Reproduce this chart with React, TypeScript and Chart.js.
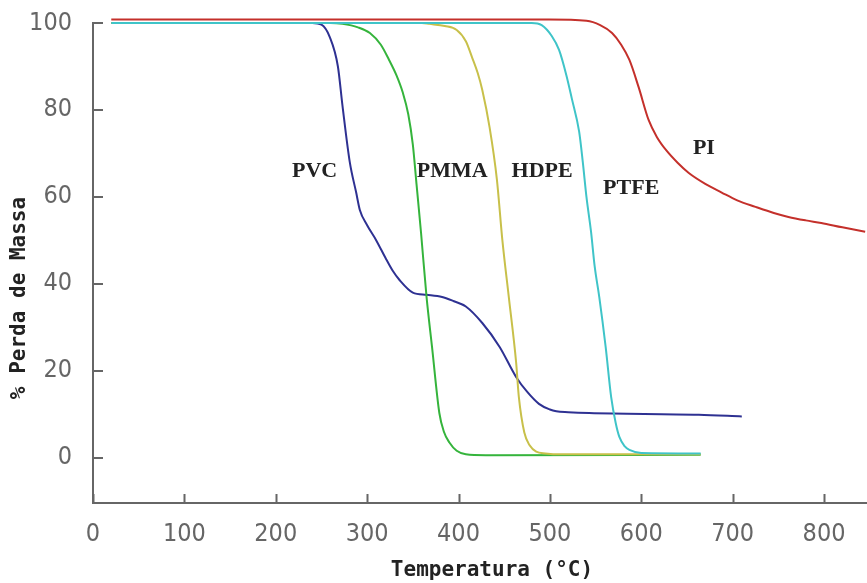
import React, { useEffect, useRef } from "react";
import { Chart, registerables } from "chart.js";

Chart.register(...registerables);

// Temperature (°C) and mass (%) samples
const pvcTemp = [20, 150, 240, 250, 259, 268, 273, 281, 288, 292, 300, 310, 320, 328, 335, 350, 365, 382, 395, 408, 426, 445, 463, 475, 488, 500, 507, 520, 543, 663, 710];
const pvcMass = [100, 100, 100, 99.6, 96.8, 90, 81, 68, 61, 57, 53.5, 50, 46, 43, 41, 38, 37.5, 37, 36, 34.8, 31, 25.5, 18.6, 15.2, 12.4, 11.1, 10.7, 10.5, 10.3, 9.9, 9.5];

const pmmaTemp = [20, 260, 273, 290, 303, 315, 324, 332, 339, 345, 350, 354, 359, 365, 371, 379, 384, 390, 398, 408, 430, 665];
const pmmaMass = [100, 100, 99.8, 99, 97.7, 95, 91.5, 88, 84, 79, 72, 63, 51.7, 37, 25.5, 10.3, 6, 3.5, 1.6, 0.8, 0.6, 0.7];

const hdpeTemp = [20, 360, 368, 385, 398, 408, 415, 421, 426, 434, 442, 448, 455, 463, 466, 472, 478, 485, 495, 513, 665];
const hdpeMass = [100, 100, 99.8, 99.3, 98.4, 95.8, 92, 88.5, 84.6, 76, 64, 50, 37, 22, 14, 5.8, 2.8, 1.4, 1.0, 0.8, 0.8];

const ptfeTemp = [20, 480, 491, 502, 510, 518, 524, 532, 536, 540, 545, 549, 554, 561, 567, 572, 576, 582, 587, 600, 665];
const ptfeMass = [100, 100, 99.5, 97, 93.8, 88, 82.6, 75, 68, 60, 52, 44, 37, 25.5, 14, 8, 4.8, 2.6, 1.8, 1.1, 1.0];

const piTemp = [20, 300, 499, 540, 555, 568, 578, 587, 597, 608, 617, 627, 640, 652, 670, 688, 705, 725, 745, 761, 780, 797, 820, 845];
const piMass = [100.8, 100.8, 100.8, 100.5, 99.5, 97.7, 95, 91.5, 85.3, 77.7, 73.8, 70.8, 67.8, 65.5, 63, 61, 59.2, 57.7, 56.3, 55.4, 54.6, 54, 53, 52];

const seriesNames = ["PVC", "PMMA", "HDPE", "PTFE", "PI"];
const seriesColors = ["#2e3192", "#35b43c", "#c8c04a", "#3fc4c8", "#c4302b"];

const xTickValues = [0, 100, 200, 300, 400, 500, 600, 700, 800];
const yTickValues = [0, 20, 40, 60, 80, 100];

// curve name annotations (data coordinates)
const labelTexts = ["PVC", "PMMA", "HDPE", "PTFE", "PI"];
const labelTemps = [242.5, 393, 491.5, 589, 668.5];
const labelMasses = [65.8, 65.8, 65.8, 61.9, 71.1];

const xTitle = "Temperatura (°C)";
const yTitle = "% Perda de Massa";

const toPoints = (xs: number[], ys: number[]) => xs.map((x, i) => ({ x, y: ys[i] }));

const tickFont = "'Liberation Sans Narrow', 'DejaVu Sans Condensed', sans-serif";

const decorPlugin = {
  id: "decor",
  afterDraw(chart: any) {
    const { ctx, chartArea, scales } = chart;
    const xs = scales.x;
    const ys = scales.y;
    ctx.save();
    ctx.strokeStyle = "#666";
    ctx.lineWidth = 2;
    ctx.beginPath();
    xTickValues.forEach((v) => {
      const px = Math.round(xs.getPixelForValue(v)) + 0.5;
      ctx.moveTo(px, chartArea.bottom);
      ctx.lineTo(px, chartArea.bottom - 9);
    });
    yTickValues.forEach((v) => {
      const py = Math.round(ys.getPixelForValue(v));
      ctx.moveTo(chartArea.left, py);
      ctx.lineTo(chartArea.left + 10, py);
    });
    ctx.stroke();

    ctx.fillStyle = "#222";
    ctx.textAlign = "center";
    ctx.textBaseline = "middle";
    ctx.font = "bold 21px 'DejaVu Sans Mono', monospace";
    ctx.fillText(xTitle, 492, 571);
    ctx.save();
    ctx.translate(20, 298);
    ctx.rotate(-Math.PI / 2);
    ctx.fillText(yTitle, 0, 0);
    ctx.restore();

    ctx.font = "bold 22px 'Liberation Serif', serif";
    labelTexts.forEach((t, i) => {
      ctx.fillText(t, xs.getPixelForValue(labelTemps[i]), ys.getPixelForValue(labelMasses[i]));
    });
    ctx.restore();
  },
};

export default function App() {
  const ref = useRef<HTMLCanvasElement | null>(null);

  useEffect(() => {
    if (!ref.current) return;
    const temps = [pvcTemp, pmmaTemp, hdpeTemp, ptfeTemp, piTemp];
    const masses = [pvcMass, pmmaMass, hdpeMass, ptfeMass, piMass];
    const chart = new Chart(ref.current, {
      type: "line",
      data: {
        datasets: seriesNames.map((name, i) => ({
          label: name,
          data: toPoints(temps[i], masses[i]),
          borderColor: seriesColors[i],
          backgroundColor: seriesColors[i],
          borderWidth: 2,
          pointRadius: 0,
          cubicInterpolationMode: "monotone" as const,
          clip: false as any,
          order: seriesNames.length - i,
        })),
      },
      options: {
        responsive: false,
        animation: false,
        events: [],
        layout: { padding: { top: 23, right: 0, left: 0, bottom: 0 } },
        plugins: { legend: { display: false }, tooltip: { enabled: false } },
        scales: {
          x: {
            type: "linear",
            min: 0,
            max: 847,
            afterBuildTicks: (s: any) => {
              s.ticks = xTickValues.map((v) => ({ value: v }));
            },
            afterFit: (s: any) => {
              s.height = 80;
              s.paddingLeft = 0;
              s.paddingRight = 0;
            },
            grid: { display: false, drawTicks: false },
            border: { display: true, color: "#666", width: 2 },
            ticks: {
              padding: 16,
              color: "#666",
              maxRotation: 0,
              autoSkip: false,
              font: { family: tickFont, size: 25 },
            },
          },
          y: {
            type: "linear",
            min: -10.4,
            max: 100,
            afterBuildTicks: (s: any) => {
              s.ticks = yTickValues.map((v) => ({ value: v }));
            },
            afterFit: (s: any) => {
              s.width = 93;
              s.paddingTop = 0;
              s.paddingBottom = 0;
            },
            grid: { display: false, drawTicks: false },
            border: { display: true, color: "#666", width: 2 },
            ticks: {
              padding: 21,
              color: "#666",
              autoSkip: false,
              font: { family: tickFont, size: 25 },
            },
          },
        },
      },
      plugins: [decorPlugin],
    });
    return () => chart.destroy();
  }, []);

  return (
    <div style={{ position: "fixed", left: 0, top: 0, width: 867, height: 583, background: "#fff" }}>
      <canvas ref={ref} width={867} height={583} />
    </div>
  );
}
